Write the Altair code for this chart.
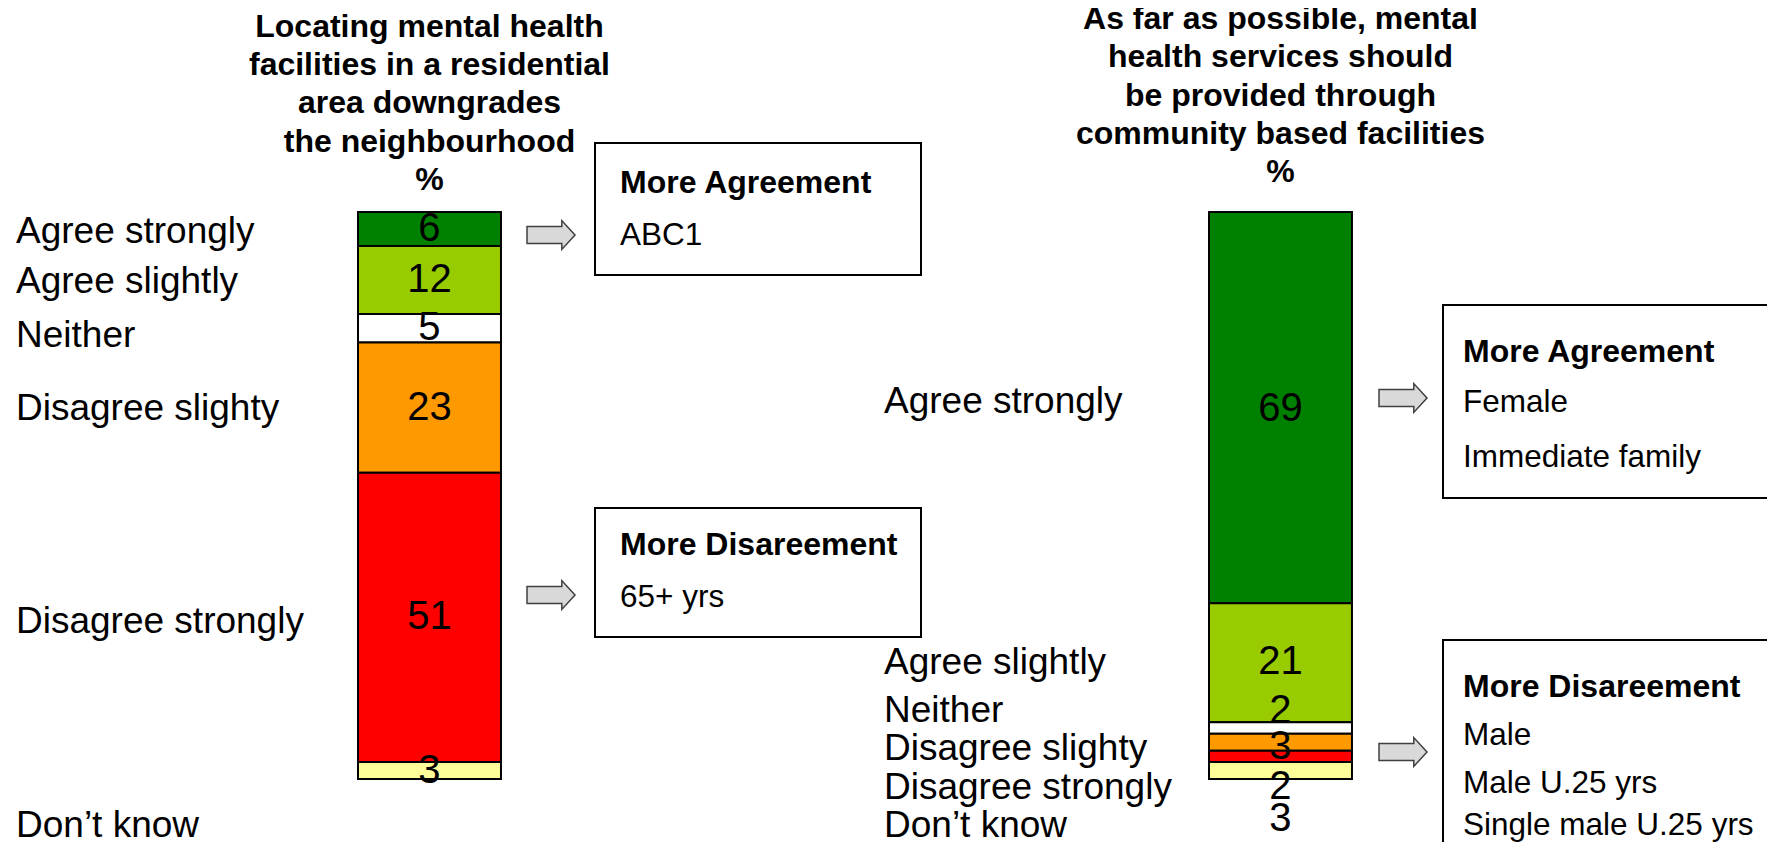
import altair as alt
import pandas as pd

# ---------------- data ----------------
categories = ["Agree strongly", "Agree slightly", "Neither",
              "Disagree slighty", "Disagree strongly", "Don\u2019t know"]
panels = ["Q1", "Q2"]
values_q1 = [6, 12, 5, 23, 51, 3]
values_q2 = [69, 21, 2, 3, 2, 3]
colors = ["#008000", "#99CC00", "#FFFFFF", "#FF9900", "#FF0000", "#FFFF99"]
title_q1 = ["Locating mental health", "facilities in a residential",
            "area downgrades", "the neighbourhood", "%"]
title_q2 = ["As far as possible, mental", "health services should",
            "be provided through", "community based facilities", "%"]
box_q1_agree = ["More Agreement", "ABC1"]
box_q1_disagree = ["More Disareement", "65+ yrs"]
box_q2_agree = ["More Agreement", "Female", "Immediate family"]
box_q2_disagree = ["More Disareement", "Male", "Male U.25 yrs", "Single male U.25 yrs"]

# label anchors (in % units along the bar)
cat_label_pos_q1 = [3.5, 12.4, 21.9, 34.7, 72.3, 108.3]
cat_label_pos_q2 = [33.5, 79.5, 88.0, 94.7, 101.6, 108.3]
val_label_pos_q2 = [34.8, 79.4, 88.0, 94.4, 101.4, 107.0]

# ---------------- tables ----------------
rows = []
for p, vals in zip(panels, [values_q1, values_q2]):
    cum = 0
    for i, (c, v) in enumerate(zip(categories, vals)):
        start, end = cum, cum + v
        cum = end
        if p == "Q1":
            vpos = (start + end) / 2
            cpos = cat_label_pos_q1[i]
        else:
            vpos = val_label_pos_q2[i]
            cpos = cat_label_pos_q2[i]
        rows.append(dict(panel=p, category=c, value=v, start=start, end=end,
                         vpos=vpos, cpos=cpos, label=str(v)))
df = pd.DataFrame(rows)

W, H = 1759, 834
FONT = "Liberation Sans"

xscale = alt.Scale(domain=panels, paddingInner=0.832, paddingOuter=0.4495, align=0.4575)
yscale = alt.Scale(domain=[-35.98, 111.11], reverse=True, nice=False, zero=False)
X = alt.X("panel:N", scale=xscale, axis=None)

bars = alt.Chart(df).mark_bar(stroke="black", strokeWidth=2).encode(
    x=X,
    y=alt.Y("start:Q", scale=yscale, axis=None),
    y2="end:Q",
    color=alt.Color("category:N", scale=alt.Scale(domain=categories, range=colors), legend=None),
)

vals = alt.Chart(df).mark_text(font=FONT, fontSize=40, color="black", baseline="middle").encode(
    x=X,
    y=alt.Y("vpos:Q", scale=yscale, axis=None),
    text="label:N",
)

cat_q1 = alt.Chart(df[df.panel == "Q1"]).mark_text(
    font=FONT, fontSize=37, color="black", align="left", baseline="middle").encode(
    x=alt.value(8),
    y=alt.Y("cpos:Q", scale=yscale, axis=None),
    text="category:N",
)
cat_q2 = alt.Chart(df[df.panel == "Q2"]).mark_text(
    font=FONT, fontSize=37, color="black", align="left", baseline="middle").encode(
    x=alt.value(876),
    y=alt.Y("cpos:Q", scale=yscale, axis=None),
    text="category:N",
)

t1 = alt.Chart(pd.DataFrame({"panel": ["Q1"], "t": ["\n".join(title_q1)]})).mark_text(
    font=FONT, fontSize=32, fontWeight="bold", color="black", align="center",
    baseline="alphabetic", lineBreak="\n", lineHeight=38.3).encode(
    x=X, y=alt.value(28.7), text="t:N")
t2 = alt.Chart(pd.DataFrame({"panel": ["Q2"], "t": ["\n".join(title_q2)]})).mark_text(
    font=FONT, fontSize=32, fontWeight="bold", color="black", align="center",
    baseline="alphabetic", lineBreak="\n", lineHeight=38.3).encode(
    x=X, y=alt.value(21), text="t:N")

layers = [bars, vals, cat_q1, cat_q2, t1, t2]

one = pd.DataFrame({"k": [0]})


def box(x1, x2, y1, y2):
    return alt.Chart(one).mark_rect(fill="white", stroke="black", strokeWidth=2).encode(
        x=alt.value(x1), x2=alt.value(x2), y=alt.value(y1), y2=alt.value(y2))


def txt(s, x, y, bold=False):
    return alt.Chart(pd.DataFrame({"t": [s]})).mark_text(
        font=FONT, fontSize=32 if bold else 31.5, fontWeight="bold" if bold else "normal",
        color="black", align="left", baseline="alphabetic").encode(
        x=alt.value(x), y=alt.value(y), text="t:N")


ARROW = "M -1 -0.35 L 0.45 -0.35 L 0.45 -0.6 L 1 0 L 0.45 0.6 L 0.45 0.35 L -1 0.35 Z"


def arrow(x, y):
    return alt.Chart(one).mark_point(shape=ARROW, filled=True, fill="#D9D9D9", stroke="#404040",
                                     strokeWidth=1.5, size=2304, opacity=1).encode(
        x=alt.value(x), y=alt.value(y))


# left panel boxes
layers += [box(587, 913, 135, 267), box(587, 913, 500, 629)]
layers += [txt(box_q1_agree[0], 612, 185, True), txt(box_q1_agree[1], 612, 237)]
layers += [txt(box_q1_disagree[0], 612, 547, True), txt(box_q1_disagree[1], 612, 599)]
layers += [arrow(543, 227), arrow(543, 587)]

# right panel boxes
layers += [box(1435, 1765, 297, 490), box(1435, 1765, 632, 841)]
for s, yy, b in zip(box_q2_agree, [354, 404, 459], [True, False, False]):
    layers.append(txt(s, 1455, yy, b))
for s, yy, b in zip(box_q2_disagree, [689, 737, 785, 827], [True, False, False, False]):
    layers.append(txt(s, 1455, yy, b))
layers += [arrow(1395, 390), arrow(1395, 744)]

chart = alt.layer(*layers).properties(
    width=W, height=H, padding=0, autosize=alt.AutoSizeParams(type="none")
).configure_view(stroke=None)

chart.save("out.html", embed_options={"renderer": "svg", "actions": False})
